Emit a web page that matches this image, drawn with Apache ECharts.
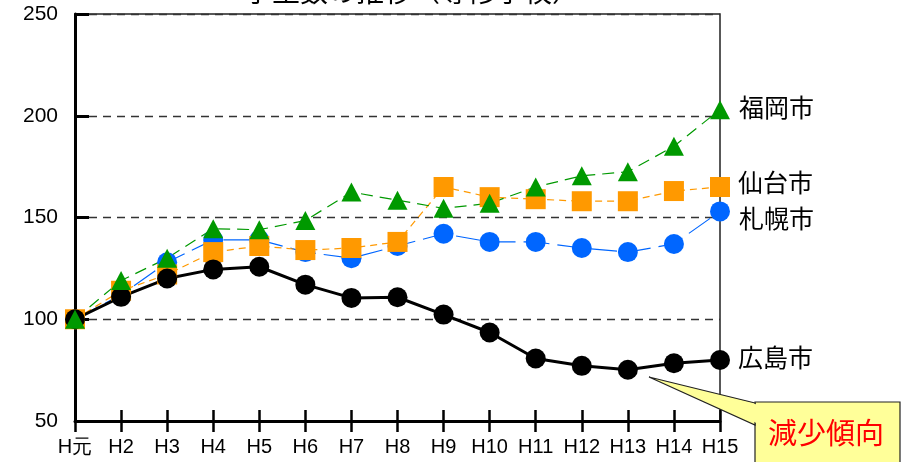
<!DOCTYPE html>
<html>
<head>
<meta charset="utf-8">
<script src="https://cdn.jsdelivr.net/npm/echarts@6/dist/echarts.min.js"></script>
<style>
    html, body { margin: 0; padding: 0; background: #fff; }
    #chart { width: 904px; height: 462px; }
</style>
</head>
<body>
<div id="chart"></div>
<script>
    // 年度（平成元年＝100とした指数）
    const years = ['H元', 'H2', 'H3', 'H4', 'H5', 'H6', 'H7', 'H8', 'H9', 'H10', 'H11', 'H12', 'H13', 'H14', 'H15']
    const sapporo = [100, 112, 128, 139, 139, 133, 130, 136, 142, 138, 138, 135, 133, 137, 153]
    const sendai = [100, 114, 122, 133, 136, 134, 135, 138, 165, 160, 159, 158, 158, 163, 165]
    const hiroshima = [100, 111, 120, 124.5, 125.8, 117, 110.5, 110.8, 102.3, 93.5, 80.7, 77.1, 75.2, 78.4, 80]
    const fukuoka = [100, 119, 130, 144.5, 144, 148.5, 162.5, 158.5, 154.5, 157, 165, 170.5, 172.5, 185, 203]
    const yTicks = { min: 50, max: 250, interval: 50 }

    const chart = echarts.init(document.getElementById('chart'))
    const font = 'Liberation Sans, Arial, sans-serif'
    const jpFont = 'Noto Sans CJK JP, sans-serif'

    function lineSeries(name, data, color, symbol, size, lineStyle){
        return {
            name: name,
            type: 'line',
            data: data,
            symbol: symbol,
            symbolSize: size,
            showAllSymbol: true,
            animation: false,
            itemStyle: { color: color, borderWidth: 0 },
            lineStyle: Object.assign({ color: color }, lineStyle)
        }
    }

    const option = {
        animation: false,
        grid: {
            left: 75, right: 184, top: 14, bottom: 41,
            show: true,
            borderColor: '#222',
            borderWidth: 1.5,
            backgroundColor: 'transparent'
        },
        xAxis: [
            {
                type: 'category',
                data: years,
                boundaryGap: false,
                axisLine: { lineStyle: { color: '#000', width: 3 } },
                axisTick: { inside: true, length: 11, lineStyle: { color: '#000', width: 2.5 } },
                axisLabel: { color: '#000', fontSize: 20, fontFamily: font, margin: 16, interval: 0 },
                splitLine: { show: false }
            },
            {
                type: 'category',
                data: years,
                position: 'bottom',
                boundaryGap: false,
                axisLine: { show: false },
                axisTick: { inside: false, length: 11, lineStyle: { color: '#000', width: 2.5 } },
                axisLabel: { show: false },
                splitLine: { show: false }
            }
        ],
        yAxis: {
            type: 'value',
            min: yTicks.min,
            max: yTicks.max,
            interval: yTicks.interval,
            axisLine: { show: true, lineStyle: { color: '#000', width: 3 } },
            axisTick: { show: true, inside: true, length: 14, lineStyle: { color: '#000', width: 3 } },
            axisLabel: { color: '#000', fontSize: 21, fontFamily: font, margin: 17 },
            splitLine: { show: true, lineStyle: { color: '#333', width: 1.3, type: [8, 6] } }
        },
        series: [
            lineSeries('札幌市', sapporo, '#0066ff', 'circle', 20, { width: 1.2, type: [26, 8] }),
            lineSeries('仙台市', sendai, '#ff9900', 'rect', 20, { width: 1.2, type: [7, 5] }),
            lineSeries('広島市', hiroshima, '#000000', 'circle', 20, { width: 3, type: 'solid' }),
            lineSeries('福岡市', fukuoka, '#009900', 'triangle', [20, 19], { width: 1.2, type: [12, 7] })
        ],
        graphic: [
            // タイトル（上端で切れている）
            {
                type: 'text', x: 412, y: 5,
                style: { text: '学生数の推移（専修学校）', font: '28px ' + jpFont, fill: '#000', textAlign: 'center', textVerticalAlign: 'bottom' }
            },
            // 系列名
            { type: 'text', x: 739, y: 107, style: { text: '福岡市', font: '25px ' + jpFont, fill: '#000', textVerticalAlign: 'middle' } },
            { type: 'text', x: 738, y: 182, style: { text: '仙台市', font: '25px ' + jpFont, fill: '#000', textVerticalAlign: 'middle' } },
            { type: 'text', x: 739, y: 218, style: { text: '札幌市', font: '25px ' + jpFont, fill: '#000', textVerticalAlign: 'middle' } },
            { type: 'text', x: 738, y: 357, style: { text: '広島市', font: '25px ' + jpFont, fill: '#000', textVerticalAlign: 'middle' } },
            // 吹き出し
            {
                type: 'rect', z: 100,
                shape: { x: 755, y: 402, width: 145, height: 80 },
                style: { fill: '#ffff99', stroke: '#222', lineWidth: 1.2 }
            },
            {
                type: 'polygon', z: 101,
                shape: { points: [[755, 403], [649, 377], [755, 425]] },
                style: { fill: '#ffff99', stroke: '#222', lineWidth: 1.2 }
            },
            {
                type: 'polygon', z: 102,
                shape: { points: [[757, 404.5], [700, 391], [757, 423.5]] },
                style: { fill: '#ffff99', stroke: null }
            },
            {
                type: 'text', z: 103, x: 768, y: 433,
                style: { text: '減少傾向', font: '29px ' + jpFont, fill: '#ff0000', textVerticalAlign: 'middle' }
            }
        ]
    }
    chart.setOption(option)
</script>
</body>
</html>
